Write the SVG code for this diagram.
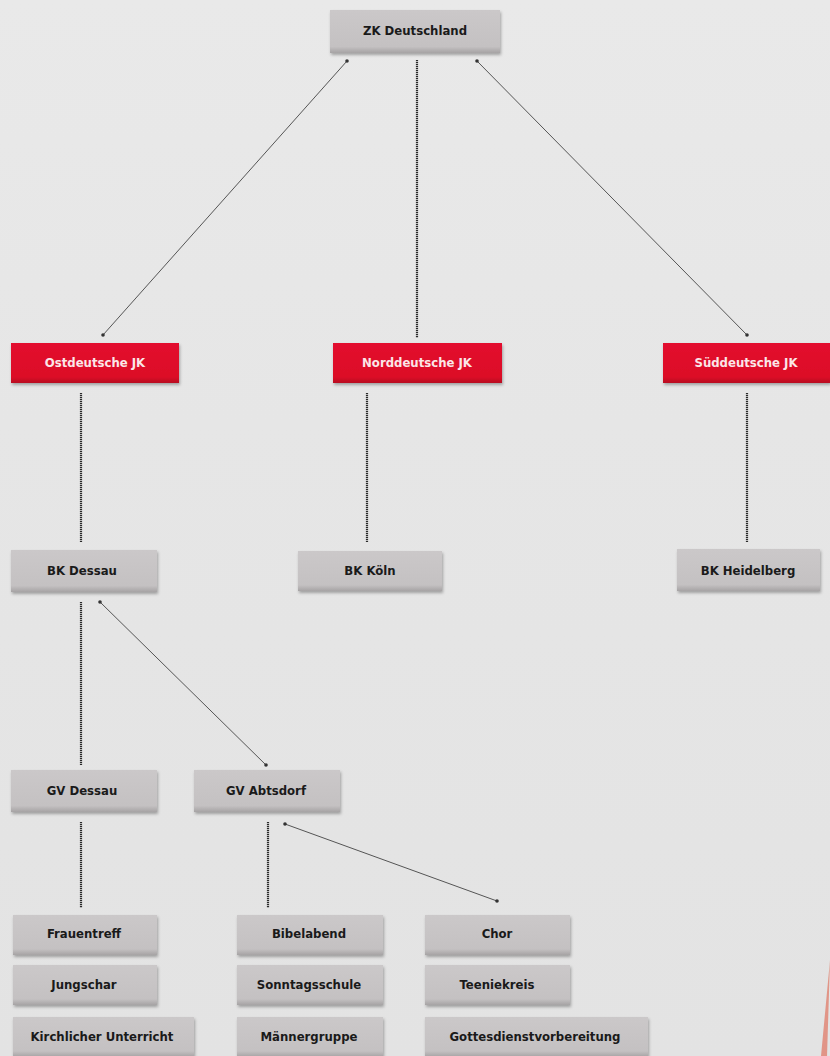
<svg xmlns="http://www.w3.org/2000/svg" width="830" height="1056" viewBox="0 0 830 1056">
<defs>
<linearGradient id="bg" x1="0" y1="0" x2="0" y2="1">
<stop offset="0" stop-color="#e9e9e9"/>
<stop offset="0.4" stop-color="#e6e6e6"/>
<stop offset="1" stop-color="#e3e3e3"/>
</linearGradient>
<linearGradient id="grey" x1="0" y1="0" x2="0" y2="1">
<stop offset="0" stop-color="#cbc8c9"/>
<stop offset="0.85" stop-color="#c4c1c2"/>
<stop offset="1" stop-color="#a6a3a4"/>
</linearGradient>
<linearGradient id="red" x1="0" y1="0" x2="0" y2="1">
<stop offset="0" stop-color="#e3102e"/>
<stop offset="0.85" stop-color="#dc0a27"/>
<stop offset="1" stop-color="#b80a20"/>
</linearGradient>
<filter id="sh" x="-10%" y="-20%" width="120%" height="160%">
<feDropShadow dx="1" dy="2" stdDeviation="1.5" flood-color="#000" flood-opacity="0.3"/>
</filter>
<marker id="dot" markerWidth="6" markerHeight="6" refX="3" refY="3" markerUnits="userSpaceOnUse">
<circle cx="3" cy="3" r="1.8" fill="#333"/>
</marker>
</defs>
<style>
.g{fill:url(#grey);filter:url(#sh)}
.r{fill:url(#red);filter:url(#sh)}
text{font-family:"DejaVu Sans Condensed","DejaVu Sans",sans-serif;font-weight:bold;font-size:13px;text-anchor:middle;dominant-baseline:central}
.tg{fill:#1a1a1a}
.tr{fill:#fbe6e8}
.v{stroke:#2a2a2a;stroke-width:2.2;stroke-dasharray:1.2 0.8;fill:none}
.d{stroke:#555;stroke-width:1;fill:none;marker-start:url(#dot);marker-end:url(#dot)}
</style>
<rect width="830" height="1056" fill="url(#bg)"/>
<path d="M830 960 L827 1056 L821 1056 Z" fill="#e0604a" opacity="0.6"/>
<g id="connectors">
<line class="v" x1="417" y1="60" x2="417" y2="338"/>
<line class="d" x1="347" y1="61" x2="103" y2="335"/>
<line class="d" x1="477" y1="61" x2="747" y2="335"/>
<line class="v" x1="81" y1="393" x2="81" y2="542"/>
<line class="v" x1="367" y1="393" x2="367" y2="542"/>
<line class="v" x1="747" y1="393" x2="747" y2="542"/>
<line class="v" x1="81" y1="602" x2="81" y2="765"/>
<line class="d" x1="100" y1="602" x2="266" y2="765"/>
<line class="v" x1="81" y1="822" x2="81" y2="908"/>
<line class="v" x1="268" y1="822" x2="268" y2="908"/>
<line class="d" x1="285" y1="824" x2="497" y2="901"/>
</g>
<g id="zk"><rect class="g" x="330" y="10" width="170" height="43"/><text class="tg" x="415" y="30">ZK Deutschland</text></g>
<g id="ost"><rect class="r" x="11" y="343" width="168" height="40"/><text class="tr" x="95" y="362">Ostdeutsche JK</text></g>
<g id="nord"><rect class="r" x="333" y="343" width="169" height="40"/><text class="tr" x="417" y="362">Norddeutsche JK</text></g>
<g id="sued"><rect class="r" x="663" y="343" width="167" height="40"/><text class="tr" x="746" y="362">Süddeutsche JK</text></g>
<g id="bkdessau"><rect class="g" x="11" y="550" width="146" height="42"/><text class="tg" x="82" y="570">BK Dessau</text></g>
<g id="bkkoeln"><rect class="g" x="298" y="551" width="144" height="40"/><text class="tg" x="370" y="570">BK Köln</text></g>
<g id="bkheidelberg"><rect class="g" x="677" y="549" width="143" height="42"/><text class="tg" x="748" y="570">BK Heidelberg</text></g>
<g id="gvdessau"><rect class="g" x="11" y="770" width="146" height="42"/><text class="tg" x="82" y="790">GV Dessau</text></g>
<g id="gvabtsdorf"><rect class="g" x="194" y="770" width="146" height="42"/><text class="tg" x="266" y="790">GV Abtsdorf</text></g>
<g id="frauentreff"><rect class="g" x="13" y="915" width="144" height="40"/><text class="tg" x="84" y="933">Frauentreff</text></g>
<g id="jungschar"><rect class="g" x="13" y="965" width="144" height="40"/><text class="tg" x="84" y="984">Jungschar</text></g>
<g id="kirchlicher"><rect class="g" x="13" y="1017" width="181" height="40"/><text class="tg" x="102" y="1036">Kirchlicher Unterricht</text></g>
<g id="bibelabend"><rect class="g" x="237" y="915" width="146" height="40"/><text class="tg" x="309" y="933">Bibelabend</text></g>
<g id="sonntagsschule"><rect class="g" x="237" y="965" width="146" height="40"/><text class="tg" x="309" y="984">Sonntagsschule</text></g>
<g id="maennergruppe"><rect class="g" x="237" y="1017" width="146" height="40"/><text class="tg" x="309" y="1036">Männergruppe</text></g>
<g id="chor"><rect class="g" x="425" y="915" width="145" height="40"/><text class="tg" x="497" y="933">Chor</text></g>
<g id="teeniekreis"><rect class="g" x="425" y="965" width="145" height="40"/><text class="tg" x="497" y="984">Teeniekreis</text></g>
<g id="gottesdienst"><rect class="g" x="425" y="1017" width="223" height="40"/><text class="tg" x="535" y="1036">Gottesdienstvorbereitung</text></g>
</svg>
